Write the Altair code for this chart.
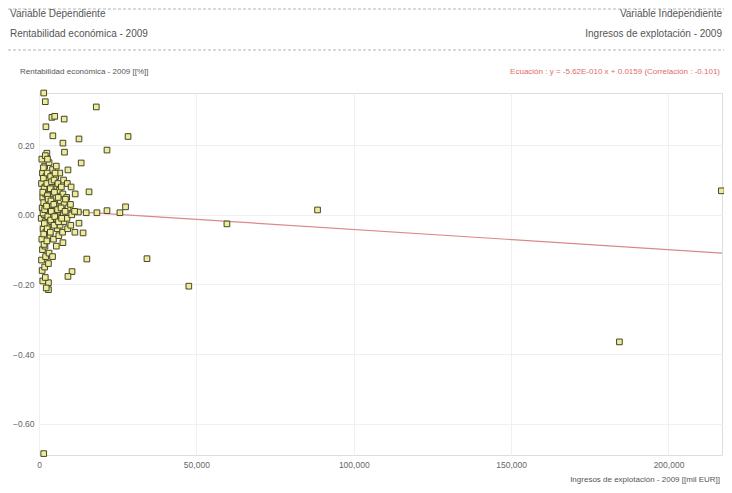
import altair as alt
import pandas as pd

# Scatter data: x = Ingresos de explotación 2009 (mil EUR), y = Rentabilidad económica 2009
x_outer = [1500, 2000, 18200, 4100, 5000, 8000, 2200, 4400, 12700, 28300, 7600, 8100,
           21600, 2500, 13400, 9200, 15900, 21600, 18400, 15000, 12500, 25700, 27500,
           88500, 59700, 12700, 11400, 14000, 7600, 15200, 34300, 10500, 9200, 47600,
           184400, 216800, 1500, 3000, 3000]
y_outer = [0.350, 0.325, 0.310, 0.280, 0.283, 0.275, 0.253, 0.227, 0.218, 0.225, 0.206, 0.180,
           0.186, 0.177, 0.149, 0.129, 0.066, 0.012, 0.006, 0.006, 0.008, 0.006, 0.023,
           0.014, -0.026, -0.024, -0.050, -0.052, -0.080, -0.127, -0.126, -0.163, -0.177, -0.205,
           -0.365, 0.069, -0.686, -0.195, -0.215]

x_cluster = [900, 1100, 800, 1200, 1000, 700, 1300, 900, 1100, 800, 1000, 1200,
             2000, 1800, 2200, 1900, 2100, 2300, 1700, 2000, 2200, 1900, 2100, 1800, 2000, 2300,
             3200, 3000, 3400, 3100, 3300, 2900, 3500, 3200, 3000,
             4300, 4100, 4500, 4200, 4400, 4000, 4600, 4300,
             5500, 5300, 5700, 5400, 5600, 5200, 5800, 5500,
             6600, 6400, 6800, 6500, 6700, 6300,
             7800, 7600, 8000, 7700, 7900, 7500,
             9000, 8800, 9200, 8900, 9100,
             10200, 10000, 10400, 10100,
             11500, 11300,
             # dense core
             1400, 1600, 1500, 1300, 1700, 1500, 1400, 1600, 1200, 1800,
             2600, 2500, 2700, 2400, 2800, 2600, 2500, 2700, 2900,
             3700, 3600, 3800, 3900, 3700, 3600, 4000,
             4800, 4900, 4700, 5000, 4800, 5100,
             6000, 6100, 5900, 6200, 7100, 7000, 7200, 8400, 8300]
y_cluster = [0.160, 0.120, 0.090, 0.050, 0.020, -0.010, -0.040, -0.070, -0.100, -0.130, -0.160, -0.190,
             0.170, 0.140, 0.110, 0.080, 0.060, 0.030, 0.000, -0.020, -0.050, -0.090, -0.120, -0.150, -0.180, -0.210,
             0.150, 0.100, 0.070, 0.040, 0.010, -0.030, -0.060, -0.110, -0.140,
             0.130, 0.090, 0.060, 0.030, 0.000, -0.020, -0.070, -0.120,
             0.140, 0.110, 0.080, 0.050, 0.020, -0.010, -0.040, -0.090,
             0.120, 0.070, 0.040, 0.010, -0.030, -0.060,
             0.100, 0.060, 0.030, 0.000, -0.020, -0.050,
             0.090, 0.050, 0.020, -0.010, -0.040,
             0.080, 0.030, 0.000, -0.030,
             0.060, 0.010,
             0.105, 0.075, 0.035, 0.005, -0.025, -0.055, 0.135, -0.085, 0.065, 0.015,
             0.120, 0.090, 0.055, 0.025, -0.005, -0.040, -0.075, 0.160, 0.045,
             0.110, 0.075, 0.040, 0.010, -0.015, -0.050, 0.095,
             0.100, 0.065, 0.030, -0.005, -0.030, 0.120,
             0.090, 0.050, 0.015, -0.020, 0.080, 0.020, -0.010, 0.045, 0.010]

# Regression line end points
reg_x = [0, 217000]
reg_y = [0.0159, -0.110]

x_ticks = [0, 50000, 100000, 150000, 200000]
y_ticks = [-0.6, -0.4, -0.2, 0.0, 0.2]

pts = pd.DataFrame({"x": x_outer + x_cluster, "y": y_outer + y_cluster})
reg = pd.DataFrame({"x": reg_x, "y": reg_y})

W, H = 683, 362
FONT = "Liberation Sans"

xscale = alt.Scale(domain=[0, 217000], nice=False, zero=False)
yscale = alt.Scale(domain=[-0.69, 0.35], nice=False, zero=False)

xaxis = alt.Axis(values=x_ticks, format=",d", title=None, domain=False, ticks=False,
                 labelFont=FONT, labelFontSize=8.5, labelColor="#666666", labelPadding=5,
                 grid=True, gridColor="#f0f0f0", labelFlush=False)
yaxis = alt.Axis(values=y_ticks, format=".2f", title=None, domain=False, ticks=False,
                 labelFont=FONT, labelFontSize=8.5, labelColor="#666666", labelPadding=5,
                 grid=True, gridColor="#f0f0f0")

line = alt.Chart(reg).mark_line(color="#d98a8a", strokeWidth=1.2, clip=False).encode(
    x=alt.X("x:Q", scale=xscale, axis=xaxis),
    y=alt.Y("y:Q", scale=yscale, axis=yaxis),
)

points = alt.Chart(pts).mark_point(shape="square", size=32, filled=False, fill="#eeec98",
                                   fillOpacity=1, stroke="#46462a", strokeWidth=1,
                                   opacity=1, clip=False).encode(
    x=alt.X("x:Q", scale=xscale),
    y=alt.Y("y:Q", scale=yscale),
)

def txt(s, x, y, align="left", size=10, color="#555555"):
    return alt.Chart(pd.DataFrame({"t": [s]})).mark_text(
        align=align, baseline="middle", font=FONT, fontSize=size, color=color
    ).encode(text="t:N", x=alt.value(x), y=alt.value(y))

def hrule(y):
    return alt.Chart(pd.DataFrame({"a": [0]})).mark_rule(
        color="#b5b5b5", strokeDash=[3, 2], strokeWidth=1
    ).encode(x=alt.value(-31), x2=alt.value(W + 2), y=alt.value(y))

texts = [
    txt("Variable Dependiente", -29, -79, size=10),
    txt("Rentabilidad económica - 2009", -29, -59, size=10),
    txt("Variable Independiente", W, -79, align="right", size=10),
    txt("Ingresos de explotación - 2009", W, -59, align="right", size=10),
    txt("Rentabilidad económica - 2009 [[%]]", -19, -21, size=8),
    txt("Ecuación  :  y = -5.62E-010 x + 0.0159 (Correlación  : -0.101)", W - 2, -21,
        align="right", size=8, color="#e06a6a"),
    txt("Ingresos de explotación - 2009 [[mil EUR]]", W - 2, 387, align="right", size=8,
        color="#555555"),
]

chart = alt.layer(line, points, hrule(-84), hrule(-43), *texts).properties(
    width=W, height=H,
    autosize=alt.AutoSizeParams(type="none"),
    padding={"left": 31, "top": 85, "right": 2, "bottom": 30},
).configure_view(
    stroke="#7d8670", strokeWidth=1.5
).configure(background="white")

chart.save("out.html", embed_options={"renderer": "svg", "actions": False})
